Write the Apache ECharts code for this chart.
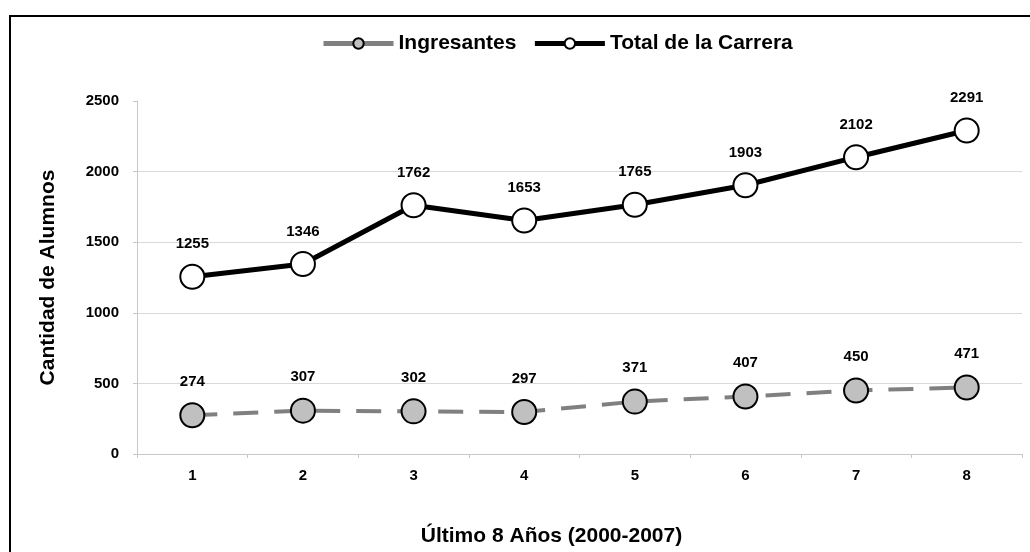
<!DOCTYPE html>
<html>
<head>
<meta charset="utf-8">
<script src="https://cdn.jsdelivr.net/npm/echarts@6/dist/echarts.min.js"></script>
<style>
html,body{margin:0;padding:0;background:#fff;}
#frame{position:absolute;left:9px;top:15px;width:1100px;height:600px;border-left:2px solid #000;border-top:2px solid #000;box-sizing:border-box;}
#chart{position:absolute;left:0;top:0;width:1030px;height:552px;}
</style>
</head>
<body>
<div id="frame"></div>
<div id="chart"></div>
<script>
const categories = ['1','2','3','4','5','6','7','8'];
const ingresantes = [274, 307, 302, 297, 371, 407, 450, 471];
const totalCarrera = [1255, 1346, 1762, 1653, 1765, 1903, 2102, 2291];
const yTicks = [0, 500, 1000, 1500, 2000, 2500];

const font = '"Liberation Sans", Arial, sans-serif';
const chart = echarts.init(document.getElementById('chart'));
chart.setOption({
  animation: false,
  backgroundColor: 'transparent',
  textStyle: { fontFamily: font },
  legend: {
    left: 316, top: 28,
    itemWidth: 70, itemHeight: 13, itemGap: 16,
    textStyle: { fontFamily: font, fontWeight: 'bold', fontSize: 21, color: '#000' },
    data: [
      { name: 'Ingresantes', lineStyle: { width: 5, type: 'solid', color: '#808080' } },
      { name: 'Total de la Carrera', lineStyle: { width: 5, type: 'solid', color: '#000' } }
    ]
  },
  grid: { left: 137, right: 8, top: 101, bottom: 96 },
  xAxis: {
    type: 'category',
    data: categories,
    boundaryGap: true,
    name: 'Último 8 Años (2000-2007)',
    nameLocation: 'middle',
    nameGap: 72,
    nameTextStyle: { fontFamily: font, fontWeight: 'bold', fontSize: 21, color: '#000', padding: [0, 56, 0, 0] },
    axisLine: { lineStyle: { color: '#c8c8c8', width: 1 } },
    axisTick: { show: true, alignWithLabel: false, length: 4, lineStyle: { color: '#c8c8c8' } },
    axisLabel: { margin: 14, fontFamily: font, fontWeight: 'bold', fontSize: 15, color: '#000' }
  },
  yAxis: {
    type: 'value',
    min: yTicks[0], max: yTicks[yTicks.length - 1], interval: 500,
    name: 'Cantidad de Alumnos',
    nameLocation: 'middle',
    nameGap: 78,
    nameTextStyle: { fontFamily: font, fontWeight: 'bold', fontSize: 21, color: '#000' },
    axisLine: { show: true, lineStyle: { color: '#c8c8c8', width: 1 } },
    axisTick: { show: true, length: 4, lineStyle: { color: '#c8c8c8' } },
    axisLabel: { margin: 18, fontFamily: font, fontWeight: 'bold', fontSize: 15, color: '#000', formatter: v => String(v) },
    splitLine: { show: true, showMaxLine: false, lineStyle: { color: '#d9d9d9', width: 1 } }
  },
  series: [
    {
      name: 'Ingresantes',
      type: 'line',
      data: ingresantes,
      symbol: 'circle',
      symbolSize: 24,
      lineStyle: { color: '#808080', width: 4, type: [25, 16] },
      itemStyle: { color: '#c0c0c0', borderColor: '#000', borderWidth: 2 },
      label: { show: true, position: 'top', distance: 13, fontFamily: font, fontWeight: 'bold', fontSize: 15, color: '#000' },
      z: 2
    },
    {
      name: 'Total de la Carrera',
      type: 'line',
      data: totalCarrera,
      symbol: 'circle',
      symbolSize: 24,
      lineStyle: { color: '#000', width: 5 },
      itemStyle: { color: '#fff', borderColor: '#000', borderWidth: 2 },
      label: { show: true, position: 'top', distance: 12, fontFamily: font, fontWeight: 'bold', fontSize: 15, color: '#000' },
      z: 3
    }
  ]
});
</script>
</body>
</html>
